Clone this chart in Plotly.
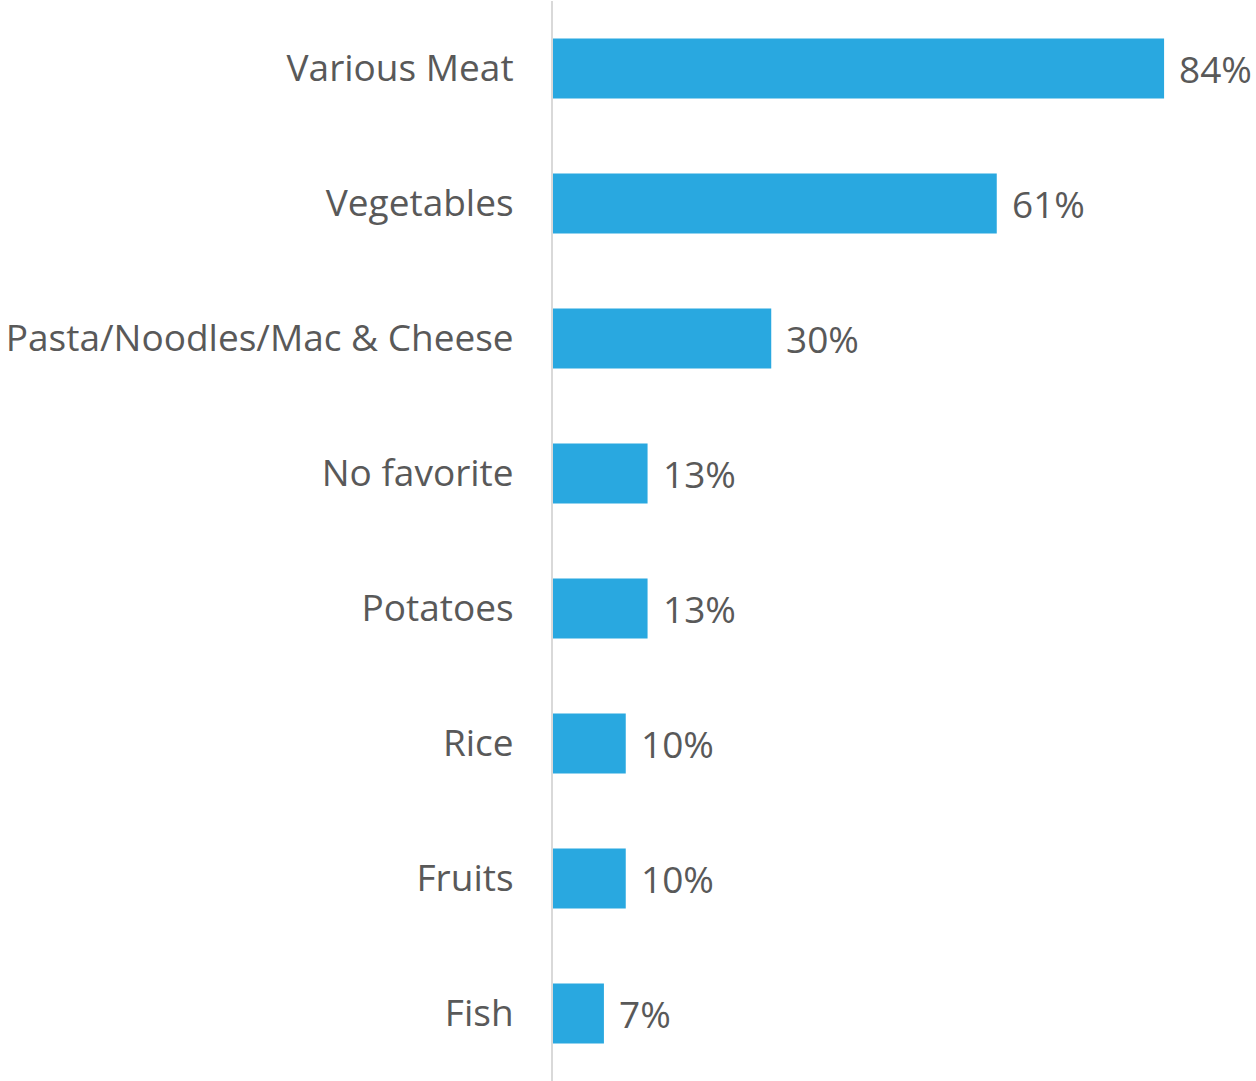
import plotly.graph_objects as go

categories = ["Various Meat", "Vegetables", "Pasta/Noodles/Mac & Cheese", "No favorite",
              "Potatoes", "Rice", "Fruits", "Fish"]
values = [84, 61, 30, 13, 13, 10, 10, 7]
value_labels = [f"{v}%" for v in values]

FONT = "Open Sans"
GRAY = "#595959"

fig = go.Figure()
fig.add_trace(go.Bar(
    y=categories, x=values, orientation="h",
    marker=dict(color="#29A8E0", line=dict(width=0)),
    hoverinfo="skip",
))
for c, v, t in zip(categories, values, value_labels):
    fig.add_annotation(x=v, y=c, text=t, showarrow=False, xanchor="left",
                       xshift=13, yshift=0,
                       font=dict(family=FONT, size=37, color=GRAY))

fig.update_layout(
    width=1256, height=1081,
    margin=dict(l=553, r=49, t=1, b=0),
    plot_bgcolor="white", paper_bgcolor="white",
    bargap=0.556,
    showlegend=False,
    font=dict(family=FONT, color=GRAY),
)
fig.update_xaxes(range=[0, 89.9], visible=False)
fig.update_yaxes(autorange="reversed", showgrid=False, zeroline=False,
                 showline=True, linecolor="#D9D9D9", linewidth=2,
                 ticks="", ticklabelstandoff=30,
                 tickfont=dict(family=FONT, size=37, color=GRAY))

fig.write_html("out.html")
